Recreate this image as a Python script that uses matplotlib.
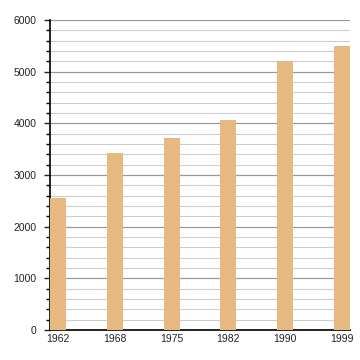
import matplotlib
matplotlib.use("Agg")
import matplotlib.pyplot as plt
from matplotlib.ticker import MultipleLocator

years = ["1962", "1968", "1975", "1982", "1990", "1999"]
population = [2550, 3430, 3720, 4070, 5210, 5500]

plt.rcParams['font.family'] = ['Liberation Sans', 'DejaVu Sans']

fig = plt.figure(figsize=(3.6, 3.6), dpi=100)
ax = fig.add_axes([50/360, 30/360, 300/360, 310/360])

x = list(range(len(years)))
ax.bar(x, population, width=0.28, color='#E6B981', zorder=3)

ax.set_xlim(-0.145, 5.145)
ax.set_ylim(0, 6000)
ax.set_xticks(x)
ax.set_xticklabels(years)
ax.yaxis.set_major_locator(MultipleLocator(1000))
ax.yaxis.set_minor_locator(MultipleLocator(200))
ax.grid(axis='y', which='major', color='#999999', linewidth=0.9, zorder=1)
ax.grid(axis='y', which='minor', color='#cccccc', linewidth=0.8, zorder=1)

for s in ['top', 'right']:
    ax.spines[s].set_visible(False)
ax.spines['left'].set_linewidth(1.2)
ax.spines['bottom'].set_linewidth(1.2)
ax.tick_params(axis='x', length=0, labelsize=7.5, pad=3, colors='#222222')
ax.tick_params(axis='y', which='major', length=4, width=1, labelsize=7.5, colors='#222222', pad=5.5)
ax.tick_params(axis='y', which='minor', length=3, width=1)
ax.tick_params(axis='both', labelcolor='#222222')

fig.savefig('out.png', dpi=100)
